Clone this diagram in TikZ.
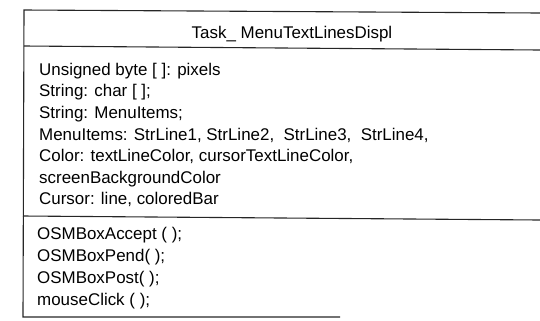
\documentclass[tikz,border=0pt]{standalone}
\usepackage{fontspec}
\setmainfont{Liberation Sans}
\usepackage{xcolor}
\usepackage{tikz}
\usetikzlibrary{positioning}

\begin{document}
\begin{tikzpicture}[
  x=1bp, y=-1bp,
  font=\fontsize{17}{21.6}\selectfont,
  title/.style={inner sep=0pt, anchor=base},
  attrs/.style={inner sep=0pt, anchor=north west, align=left},
  ops/.style={inner sep=0pt, anchor=north west, align=left, font=\fontsize{17}{22.2}\selectfont},
  frame/.style={line width=1.1bp, black!85}
]
\useasboundingbox (0,0) rectangle (540,320);
% corners of the class box
\coordinate (tl) at (24,10);
\coordinate (tr) at (540,13);
\coordinate (bl) at (23,317);
\coordinate (br) at (340,317);
\coordinate (s1l) at (24,46);
\coordinate (s1r) at (540,50);
\coordinate (s2l) at (23,216);
\coordinate (s2r) at (540,220);
% compartments
\node[title] (name) at (292,38) {Task\_ MenuTextLinesDispl};
\node[attrs] (fields) at (39,63) {Unsigned byte [ ]: pixels\\String: char [ ];\\String: MenuItems;\\MenuItems: StrLine1, StrLine2,\ \ StrLine3,\ \ StrLine4,\\Color: textLineColor, cursorTextLineColor,\\screenBackgroundColor\\Cursor: line, coloredBar};
\node[ops] (methods) at (37,227) {OSMBoxAccept ( );\\OSMBoxPend( );\\OSMBoxPost( );\\mouseClick ( );};
% outline
\draw[frame] (tr) -- (tl) -- (bl) -- (br);
\draw[frame] (s1l) -- (s1r);
\draw[frame] (s2l) -- (s2r);
\end{tikzpicture}
\end{document}
